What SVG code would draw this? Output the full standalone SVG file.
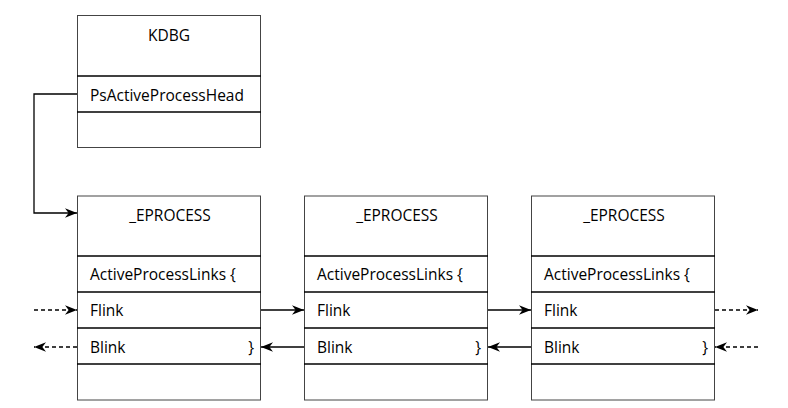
<svg xmlns="http://www.w3.org/2000/svg" width="788" height="408" viewBox="0 0 788 408">
<style>
.box{fill:#fff;stroke:#444;stroke-width:1}
.div{stroke:#000;stroke-width:1.6}
text{font-family:"Open Sans","Liberation Sans",sans-serif;font-size:15.5px;fill:#000}
.c{text-anchor:middle}
.e{text-anchor:end}
.ln{fill:none;stroke:#000;stroke-width:1.3}
.dash{stroke-dasharray:4 3}
</style>
<defs>
<marker id="ah" viewBox="0 0 10 10" refX="10" refY="5" markerWidth="12" markerHeight="12" markerUnits="userSpaceOnUse" orient="auto">
<path d="M0,1 L10,5 L0,9 L3,5 z" fill="#000"/>
</marker>
</defs>
<g id="kdbg">
<rect class="box" x="77.5" y="15.5" width="183" height="132"/>
<line class="div" x1="77" y1="76" x2="261" y2="76"/>
<line class="div" x1="77" y1="112" x2="261" y2="112"/>
<text class="c" x="169" y="41">KDBG</text>
<text x="90" y="101">PsActiveProcessHead</text>
</g>
<g id="eprocess1">
<rect class="box" x="77.5" y="196" width="183" height="204"/>
<line class="div" x1="77" y1="256" x2="261" y2="256"/>
<line class="div" x1="77" y1="292" x2="261" y2="292"/>
<line class="div" x1="77" y1="328" x2="261" y2="328"/>
<line class="div" x1="77" y1="364" x2="261" y2="364"/>
<text class="c" x="170" y="221">_EPROCESS</text>
<text x="90" y="280">ActiveProcessLinks {</text>
<text x="90" y="316">Flink</text>
<text x="90" y="353">Blink</text>
<text class="e" x="254" y="353">}</text>
</g>
<g id="eprocess2">
<rect class="box" x="304.5" y="196" width="183" height="204"/>
<line class="div" x1="304" y1="256" x2="488" y2="256"/>
<line class="div" x1="304" y1="292" x2="488" y2="292"/>
<line class="div" x1="304" y1="328" x2="488" y2="328"/>
<line class="div" x1="304" y1="364" x2="488" y2="364"/>
<text class="c" x="397" y="221">_EPROCESS</text>
<text x="317" y="280">ActiveProcessLinks {</text>
<text x="317" y="316">Flink</text>
<text x="317" y="353">Blink</text>
<text class="e" x="481" y="353">}</text>
</g>
<g id="eprocess3">
<rect class="box" x="531.5" y="196" width="183" height="204"/>
<line class="div" x1="531" y1="256" x2="715" y2="256"/>
<line class="div" x1="531" y1="292" x2="715" y2="292"/>
<line class="div" x1="531" y1="328" x2="715" y2="328"/>
<line class="div" x1="531" y1="364" x2="715" y2="364"/>
<text class="c" x="624" y="221">_EPROCESS</text>
<text x="544" y="280">ActiveProcessLinks {</text>
<text x="544" y="316">Flink</text>
<text x="544" y="353">Blink</text>
<text class="e" x="708" y="353">}</text>
</g>
<g id="connectors">
<path class="ln" d="M77,94 H34 V213 H77" marker-end="url(#ah)"/>
<path class="ln dash" d="M34,310 H77" marker-end="url(#ah)"/>
<path class="ln dash" d="M77,347 H34" marker-end="url(#ah)"/>
<path class="ln" d="M261,310 H304" marker-end="url(#ah)"/>
<path class="ln" d="M304,347 H261" marker-end="url(#ah)"/>
<path class="ln" d="M488,310 H531" marker-end="url(#ah)"/>
<path class="ln" d="M531,347 H488" marker-end="url(#ah)"/>
<path class="ln dash" d="M715,310 H758" marker-end="url(#ah)"/>
<path class="ln dash" d="M758,347 H715" marker-end="url(#ah)"/>
</g>
</svg>
